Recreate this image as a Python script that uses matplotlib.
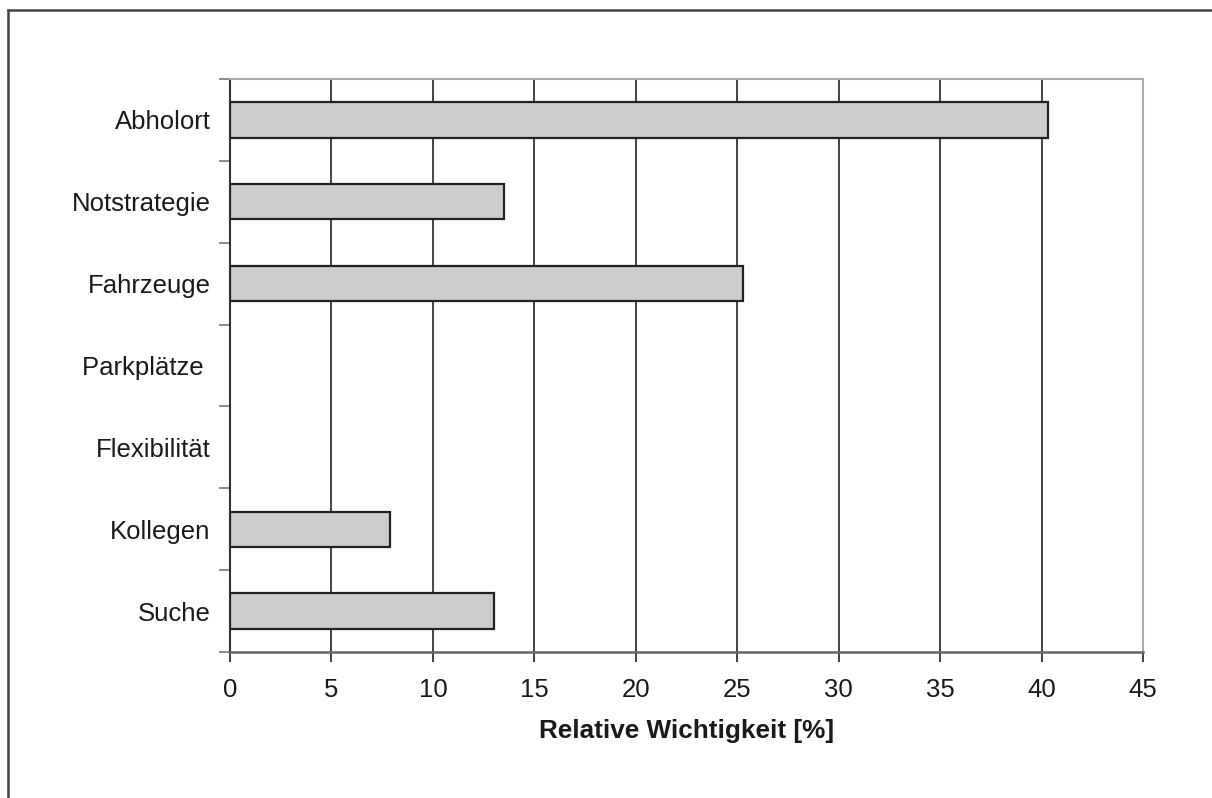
import matplotlib
matplotlib.use("Agg")
import matplotlib.pyplot as plt
from matplotlib.lines import Line2D
import numpy as np

plt.rcParams['font.family'] = ['Liberation Sans', 'DejaVu Sans']

categories = ["Abholort", "Notstrategie", "Fahrzeuge", "Parkplätze ",
              "Flexibilität", "Kollegen", "Suche"]
values = [40.3, 13.5, 25.3, 0.0, 0.0, 7.9, 13.0]
x_ticks = [0, 5, 10, 15, 20, 25, 30, 35, 40, 45]
x_label = "Relative Wichtigkeit [%]"

fig = plt.figure(figsize=(12.12, 7.98), dpi=100)
ax = fig.add_axes([230 / 1212, 1 - 652 / 798, 913 / 1212, 573 / 798])

ypos = np.arange(len(categories))
shown = [v if v > 0 else np.nan for v in values]
ax.barh(ypos, shown, height=0.43, color="#cccccc", edgecolor="#222222",
        linewidth=1.6, zorder=3)

ax.set_xlim(0, 45)
ax.set_ylim(len(categories) - 0.5, -0.5)
ax.set_xticks(x_ticks)
ax.set_xticklabels([str(t) for t in x_ticks])
ax.set_yticks(ypos)
ax.set_yticklabels(categories)
ax.set_yticks(np.arange(-0.5, len(categories), 1.0), minor=True)

ax.tick_params(axis='y', which='major', length=0, pad=14, labelsize=18.5,
               labelcolor="#1a1a1a")
ax.tick_params(axis='y', which='minor', length=8, width=1.2, color="#777777",
               direction='out')
ax.tick_params(axis='x', which='major', length=7, width=1.2, color="#222222",
               direction='out', pad=12, labelsize=18.5, labelcolor="#1a1a1a")

for t in x_ticks[1:-1]:
    ax.axvline(t, color="#222222", linewidth=1.2, zorder=1)

ax.spines['left'].set_color("#333333")
ax.spines['left'].set_linewidth(1.5)
ax.spines['bottom'].set_color("#666666")
ax.spines['bottom'].set_linewidth(1.8)
ax.spines['top'].set_color("#aaaaaa")
ax.spines['top'].set_linewidth(1.5)
ax.spines['right'].set_color("#aaaaaa")
ax.spines['right'].set_linewidth(1.5)

ax.set_xlabel(x_label, fontsize=18.8, fontweight='bold', color="#1a1a1a",
              labelpad=12)

# outer frame (top and left edges)
fig.add_artist(Line2D([8 / 1212, 1.0], [1 - 10 / 798, 1 - 10 / 798],
                      transform=fig.transFigure, color="#444444", linewidth=1.8))
fig.add_artist(Line2D([8 / 1212, 8 / 1212], [0.0, 1 - 10 / 798],
                      transform=fig.transFigure, color="#444444", linewidth=1.8))

fig.savefig("out.png", dpi=100)
